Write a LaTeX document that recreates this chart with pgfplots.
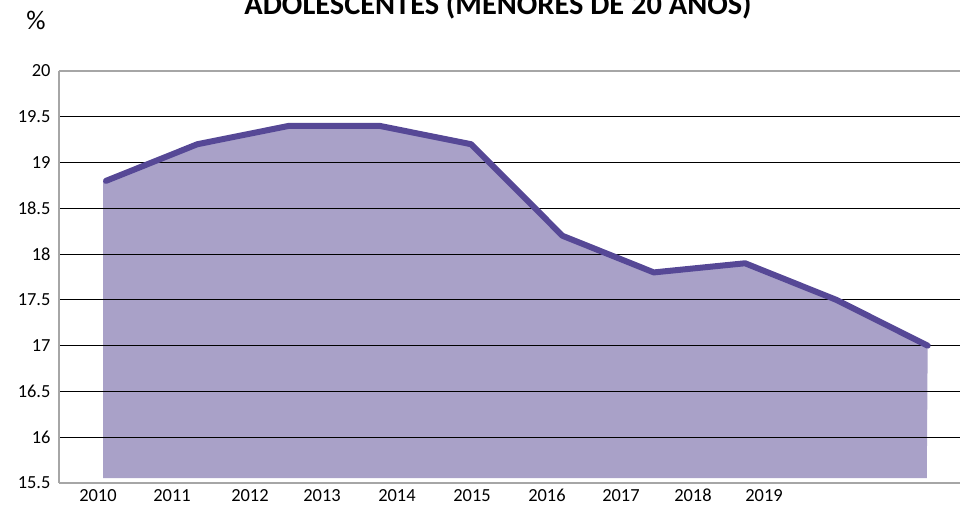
\documentclass[border=0pt]{standalone}
\usepackage{pgfplots}
\pgfplotsset{compat=1.18}
\usetikzlibrary{calc}
\usepackage{fontspec}
\setmainfont{Carlito}
\definecolor{areafill}{RGB}{169,161,200}
\definecolor{linecol}{RGB}{86,72,150}
\begin{document}
\begin{tikzpicture}[x=1bp,y=1bp]
\begin{axis}[
  name=ax,
  at={(0,0)}, anchor=south west,
  scale only axis,
  width=901bp, height=412bp,
  xmin=-0.515, xmax=9.354,
  ymin=15.5, ymax=20,
  set layers,
  axis lines=left,
  axis line style={-, draw=gray!70, line width=1.2bp},
  ytick={15.5,16,16.5,17,17.5,18,18.5,19,19.5,20},
  xtick={-0.088,0.723,1.577,2.366,3.187,4.009,4.830,5.640,6.429,7.207},
  xticklabels={2010,2011,2012,2013,2014,2015,2016,2017,2018,2019},
  major tick length=0pt,
  ymajorgrids,
  grid style={black, line width=0.8bp},
  tick label style={font=\fontsize{18.5}{20}\selectfont, text=black},
  /pgf/number format/assume math mode=true,
  yticklabel style={xshift=-5bp},
  xticklabel style={anchor=base, yshift=-19bp},
  clip=false,
]
\addplot[on layer=axis background, fill=areafill, draw=none] coordinates {
 (-0.033,15.554) (-0.033,18.8) (0,18.8) (1,19.2) (2,19.4) (3,19.4) (4,19.2)
 (5,18.2) (6,17.8) (7,17.9) (8,17.5) (9,17.0) (8.99,15.554)} -- cycle;
\addplot[linecol, line width=6bp, line cap=round, line join=round] coordinates {
 (0,18.8) (1,19.2) (2,19.4) (3,19.4) (4,19.2)
 (5,18.2) (6,17.8) (7,17.9) (8,17.5) (9,17.0)};
\draw[gray!70, line width=1.2bp] (rel axis cs:0,1) -- (rel axis cs:1,1);
\end{axis}
\node[anchor=base, font=\fontsize{30.5}{33}\selectfont\bfseries, inner sep=0pt]
  at ($(ax.north west)+(439bp,56bp)$) {ADOLESCENTES (MENORES DE 20 AÑOS)};
\node[anchor=center, font=\fontsize{27}{29}\selectfont, inner sep=0pt]
  at ($(ax.north west)+(-23bp,51bp)$) {\%};
\pgfresetboundingbox
\useasboundingbox ($(ax.south west)+(-59bp,-23bp)$) rectangle ($(ax.north east)+(0bp,71bp)$);
\end{tikzpicture}
\end{document}
